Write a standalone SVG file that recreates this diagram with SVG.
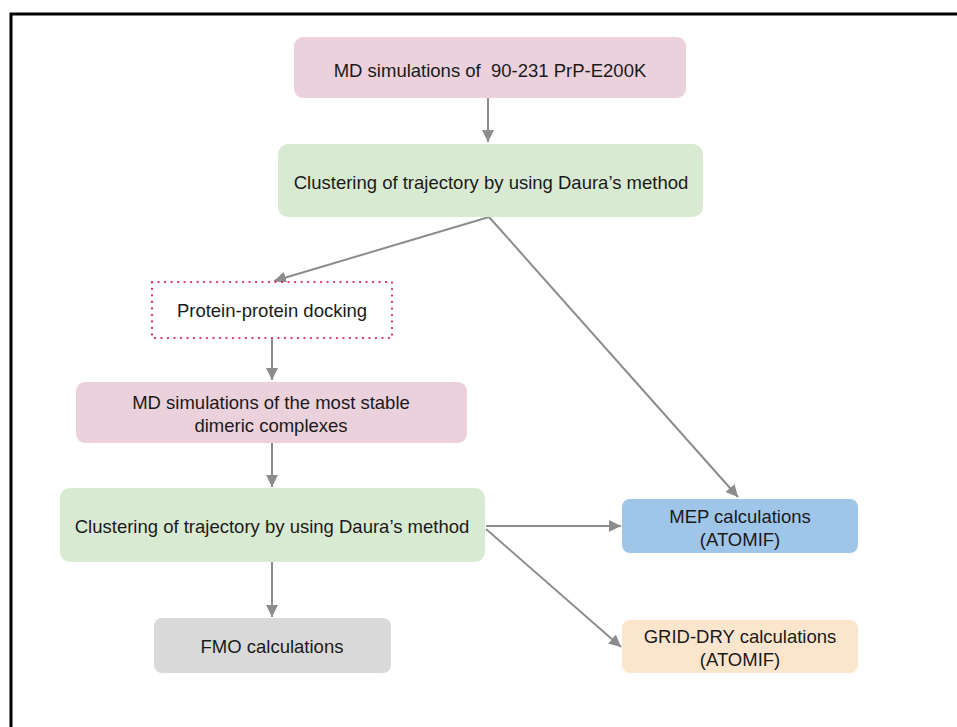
<svg xmlns="http://www.w3.org/2000/svg" width="957" height="727" viewBox="0 0 957 727">
<style>
.t{font-family:"Liberation Sans",Arial,sans-serif;font-size:18.5px;fill:#1a1a1a;text-anchor:middle}
.c{stroke:#8c8c8c;stroke-width:2;fill:none}
</style>
<defs>
<marker id="ah" viewBox="0 0 10 10" refX="10" refY="5" markerWidth="6" markerHeight="6" markerUnits="strokeWidth" orient="auto">
<path d="M0,0 L10,5 L0,10 z" fill="#8c8c8c"/>
</marker>
</defs>
<rect width="957" height="727" fill="#fff"/>
<path d="M11,727 V14 H957" fill="none" stroke="#000" stroke-width="3"/>
<g id="connectors">
<line class="c" x1="488" y1="98" x2="488" y2="142" marker-end="url(#ah)"/>
<line class="c" x1="489" y1="217" x2="274" y2="281" marker-end="url(#ah)"/>
<line class="c" x1="489" y1="217" x2="738" y2="497" marker-end="url(#ah)"/>
<line class="c" x1="272" y1="339" x2="272" y2="380" marker-end="url(#ah)"/>
<line class="c" x1="272" y1="443" x2="272" y2="487" marker-end="url(#ah)"/>
<line class="c" x1="272" y1="562" x2="272" y2="617" marker-end="url(#ah)"/>
<line class="c" x1="486" y1="526" x2="621" y2="526" marker-end="url(#ah)"/>
<line class="c" x1="486" y1="529" x2="621" y2="647" marker-end="url(#ah)"/>
</g>
<g id="n1">
<rect x="294" y="37" width="392" height="61" rx="9" fill="#ead1dc"/>
<text class="t" x="490" y="77">MD simulations of&#160; 90-231 PrP-E200K</text>
</g>
<g id="n2">
<rect x="278" y="144" width="425" height="73" rx="10" fill="#d9ead3"/>
<text class="t" x="491" y="189">Clustering of trajectory by using Daura’s method</text>
</g>
<g id="n3">
<rect x="152" y="282" width="240" height="56" fill="#fff" stroke="#e0245e" stroke-width="2.2" stroke-dasharray="0.1 6.4" stroke-linecap="round"/>
<text class="t" x="272" y="317">Protein-protein docking</text>
</g>
<g id="n4">
<rect x="76" y="382" width="391" height="61" rx="9" fill="#ead1dc"/>
<text class="t" x="271" y="409">MD simulations of the most stable</text>
<text class="t" x="271" y="432">dimeric complexes</text>
</g>
<g id="n5">
<rect x="60" y="488" width="425" height="74" rx="10" fill="#d9ead3"/>
<text class="t" x="272" y="533">Clustering of trajectory by using Daura’s method</text>
</g>
<g id="n6">
<rect x="154" y="618" width="237" height="55" rx="8" fill="#d9d9d9"/>
<text class="t" x="272" y="653">FMO calculations</text>
</g>
<g id="n7">
<rect x="622" y="499" width="236" height="54" rx="8" fill="#9fc5e8"/>
<text class="t" x="740" y="523">MEP calculations</text>
<text class="t" x="740" y="546">(ATOMIF)</text>
</g>
<g id="n8">
<rect x="622" y="620" width="236" height="53" rx="8" fill="#fce5cd"/>
<text class="t" x="740" y="643">GRID-DRY calculations</text>
<text class="t" x="740" y="666">(ATOMIF)</text>
</g>
</svg>
